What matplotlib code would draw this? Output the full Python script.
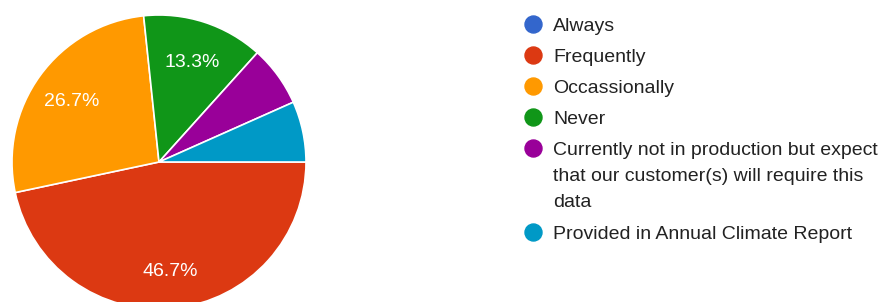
import matplotlib.pyplot as plt

plt.rcParams['font.family'] = ['Liberation Sans', 'DejaVu Sans']

labels = [
    "Always",
    "Frequently",
    "Occassionally",
    "Never",
    "Currently not in production but expect\nthat our customer(s) will require this\ndata",
    "Provided in Annual Climate Report",
]
counts = [0, 7, 4, 2, 1, 1]
colors = ["#3366cc", "#dc3912", "#ff9900", "#109618", "#990099", "#0099c6"]

W, H = 885, 302
fig = plt.figure(figsize=(W / 100, H / 100), dpi=100)
ax = fig.add_axes([0, 0, 1, 1])

wedges, texts, autotexts = ax.pie(
    counts,
    colors=colors,
    center=(159, H - 162),
    radius=147,
    startangle=0,
    counterclock=False,
    autopct=lambda p: f"{p:.1f}%" if p > 10 else "",
    pctdistance=0.73,
    wedgeprops=dict(edgecolor="white", linewidth=1.2),
    textprops=dict(color="white", fontsize=14),
    frame=True,
)
for t in autotexts:
    x, y = t.get_position()
    t.set_position((x, y - 3))

ax.set_xlim(0, W)
ax.set_ylim(0, H)
ax.set_aspect("equal")
ax.axis("off")

# legend drawn by hand so the wrapped entry lines up like the original
y = 24
for lab, col in zip(labels, colors):
    ax.scatter([533], [H - y], s=150, color=col, zorder=3, clip_on=False)
    ax.text(553, H - y + 6, lab, fontsize=14, color="#222222",
            va="top", ha="left", linespacing=1.7)
    y += 31 + 26.5 * lab.count("\n")

fig.savefig("out.png", dpi=100)
